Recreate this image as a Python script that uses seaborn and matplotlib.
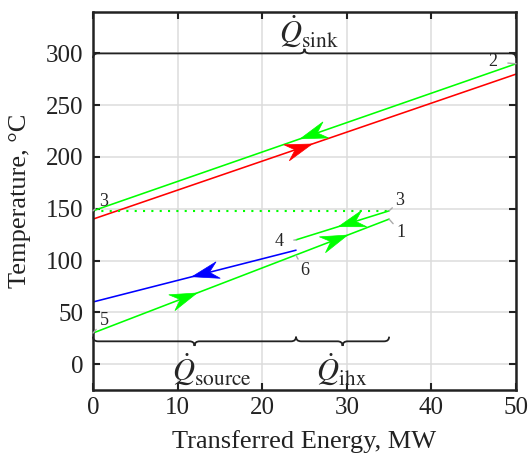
import numpy as np
import pandas as pd
import matplotlib
matplotlib.use("Agg")
import matplotlib.pyplot as plt
import seaborn as sns
from matplotlib.path import Path
from matplotlib.patches import PathPatch, Polygon
from matplotlib.transforms import IdentityTransform

# ---- data ----
sink_x = [0, 50]; sink_red = [140, 280]
hot_x = [0, 50]; hot_green = [148, 290]
dot_x = [0, 35]; dot_y = [148, 148]
cold_x = [0, 35]; cold_green = [30, 140]
ihx_x = [24, 35]; ihx_green = [120, 148]
src_x = [0, 24]; src_blue = [60, 110]

GREEN = "#00ff00"
# arrows: (colour, line x, line y, x of tip, direction)
arrow_specs = [
    ("red", sink_x, sink_red, 25.9, +1),
    (GREEN, hot_x, hot_green, 24.5, -1),
    (GREEN, cold_x, cold_green, 12.3, +1),
    (GREEN, cold_x, cold_green, 30.1, +1),
    (GREEN, ihx_x, ihx_green, 29.0, -1),
    ("blue", src_x, src_blue, 11.7, -1),
]

# point labels: text, point (x,y), text position (x,y)
pt_labels = [
    ("2", (50, 290), (47.3, 292)),
    ("3", (0, 148), (1.2, 157)),
    ("5", (0, 30), (1.3, 42)),
    ("3", (35, 148), (36.3, 158)),
    ("1", (35, 140), (36.4, 127)),
    ("4", (24, 120), (22.0, 118)),
    ("6", (24, 105), (25.0, 90)),
]

braces = [  # x0, x1, y, direction, label, label x, label y
    (0, 50, 300, +1, r"$\dot{Q}_{\mathrm{sink}}$", 25.5, 321),
    (0, 24, 22, -1, r"$\dot{Q}_{\mathrm{source}}$", 14.0, -6),
    (24, 35, 22, -1, r"$\dot{Q}_{\mathrm{ihx}}$", 29.4, -6),
]

xticks = [0, 10, 20, 30, 40, 50]
yticks = [0, 50, 100, 150, 200, 250, 300]

sns.set_style("ticks")
plt.rcParams["font.family"] = ["Liberation Serif", "DejaVu Serif"]
plt.rcParams["mathtext.fontset"] = "stix"

fig = plt.figure(figsize=(5.28, 4.66), dpi=100)
ax = fig.add_axes([93 / 528, 76 / 466, 423 / 528, 378 / 466])

LW = 1.15
sns.lineplot(x=sink_x, y=sink_red, color="red", lw=LW, ax=ax)
sns.lineplot(x=hot_x, y=hot_green, color=GREEN, lw=LW, ax=ax)
sns.lineplot(x=dot_x, y=dot_y, color=GREEN, lw=1.5, ls=(0, (1, 3)), ax=ax)
sns.lineplot(x=cold_x, y=cold_green, color=GREEN, lw=LW, ax=ax)
sns.lineplot(x=ihx_x, y=ihx_green, color=GREEN, lw=LW, ax=ax)
sns.lineplot(x=src_x, y=src_blue, color="blue", lw=LW, ax=ax)

ax.set_xlim(0, 50)
ax.set_ylim(-25, 340)

# stealth-shaped arrowheads drawn in pixel space
L, W, N = 27.0, 8.5, 9.0
for col, lx, ly, xt, d in arrow_specs:
    slope = (ly[1] - ly[0]) / (lx[1] - lx[0])
    yt = ly[0] + slope * (xt - lx[0])
    xb = xt - d * 2.0
    yb = ly[0] + slope * (xb - lx[0])
    p_tip = ax.transData.transform((xt, yt))
    p_b = ax.transData.transform((xb, yb))
    u = p_tip - p_b
    u = u / np.hypot(*u)
    n = np.array([-u[1], u[0]])
    pts = [p_tip, p_tip - L * u + W * n, p_tip - (L - N) * u, p_tip - L * u - W * n]
    ax.add_patch(Polygon(pts, closed=True, fc=col, ec=col, lw=0.5,
                         transform=IdentityTransform(), zorder=4))

for txt, p, t in pt_labels:
    ax.annotate(txt, xy=p, xytext=t, fontsize=13, ha="center", va="center",
                arrowprops=dict(arrowstyle="-", color="#aaaaaa", lw=1,
                                shrinkA=5, shrinkB=0))

for x0, x1, y, d, lab, lxp, lyp in braces:
    xm = (x0 + x1) / 2
    w = 0.6
    h = 4.5
    verts = [(x0, y - d * h), (x0, y), (x0 + w, y), (xm - w, y), (xm, y), (xm, y + d * h),
             (xm, y), (xm + w, y), (x1 - w, y), (x1, y), (x1, y - d * h)]
    codes = [Path.MOVETO, Path.CURVE3, Path.CURVE3, Path.LINETO, Path.CURVE3, Path.CURVE3,
             Path.CURVE3, Path.CURVE3, Path.LINETO, Path.CURVE3, Path.CURVE3]
    ax.add_patch(PathPatch(Path(verts, codes), fill=False, ec="#222222", lw=1.3,
                           clip_on=False, zorder=5))
    ax.text(lxp, lyp, lab, fontsize=22, ha="center", va="center")

ax.set_xticks(xticks)
ax.set_yticks(yticks)
ax.grid(True, color="#dcdcdc", lw=1.1)
ax.set_axisbelow(True)
ax.tick_params(direction="in", top=True, right=True, labelsize=18, length=5, width=1.5,
               colors="#222222")
ax.tick_params(axis="x", pad=5)
ax.tick_params(axis="y", pad=7)
for s in ax.spines.values():
    s.set_linewidth(1.8)
    s.set_color("#222222")
ax.set_xlabel("Transferred Energy, MW", fontsize=19, color="#222222")
ax.set_ylabel("Temperature, °C", fontsize=19, color="#222222")
ax.xaxis.set_label_coords(0.5, (390 - 442) / 378)
ax.xaxis.label.set_va("center")
ax.yaxis.set_label_coords((20 - 93) / 423, 0.5)
ax.yaxis.label.set_va("center")

fig.savefig("out.png", dpi=100)
